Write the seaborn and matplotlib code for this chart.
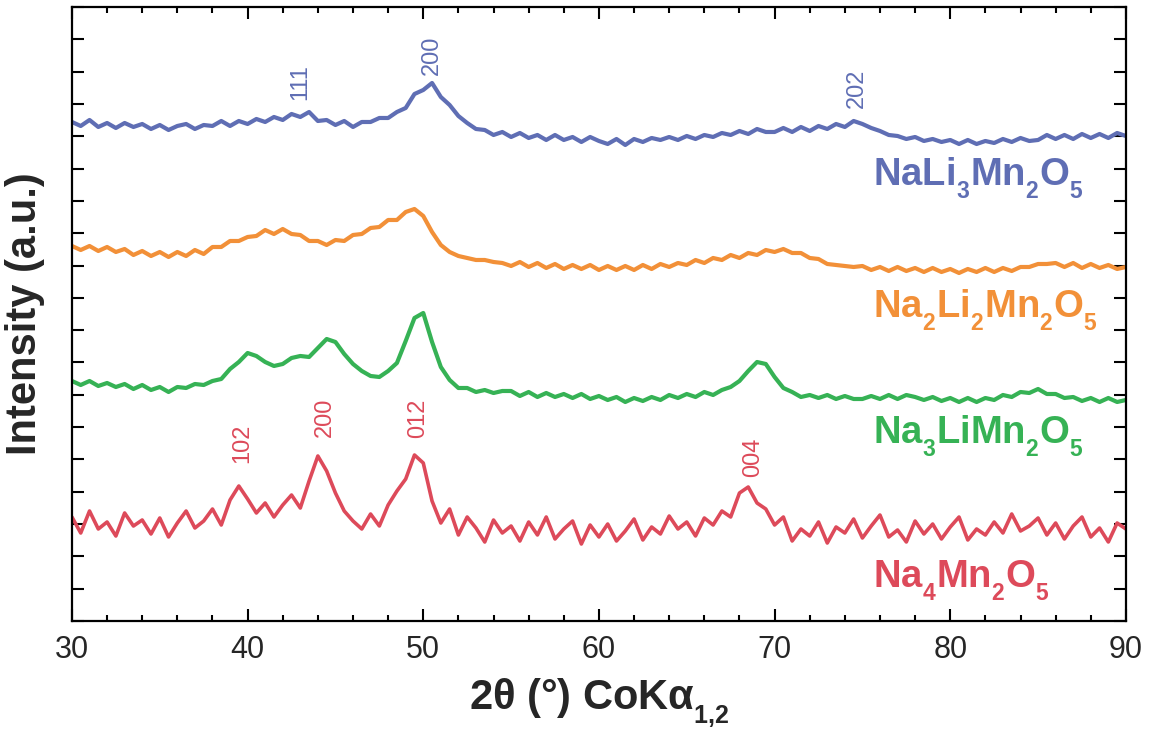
import numpy as np
import matplotlib; matplotlib.use('Agg')
import matplotlib.pyplot as plt
import matplotlib._mathtext as mathtext_mod
import seaborn as sns

# ── Data (offsets included) ─────────────────────────────────────────
two_theta = np.arange(30, 90.01, 0.5)

int_nali3 = [
    499, 495, 501, 494, 498, 493, 498, 494, 497, 492,   # 30-34.5
    496, 491, 495, 497, 492, 496, 495, 500, 495, 500,   # 35-39.5
    497, 502, 499, 504, 501, 507, 504, 509, 500, 501,   # 40-44.5
    496, 500, 494, 499, 499, 503, 503, 509, 513, 527,   # 45-49.5
    531, 538, 524, 516, 505, 498, 492, 491, 486, 489,   # 50-54.5
    484, 488, 483, 486, 481, 486, 481, 484, 479, 484,   # 55-59.5
    480, 477, 482, 476, 482, 479, 483, 481, 484, 481,   # 60-64.5
    485, 482, 486, 484, 488, 486, 490, 487, 492, 489,   # 65-69.5
    489, 493, 489, 494, 490, 495, 492, 497, 494, 500,   # 70-74.5
    497, 493, 490, 486, 485, 482, 484, 480, 482, 479,   # 75-79.5
    481, 477, 481, 477, 480, 478, 482, 479, 483, 480,   # 80-84.5
    481, 486, 482, 486, 482, 487, 483, 487, 483, 488,   # 85-89.5
    485]

int_na2li2 = [
    375, 371, 375, 370, 374, 369, 372, 366, 370, 365,
    369, 364, 369, 365, 371, 367, 374, 374, 380, 380,
    384, 385, 391, 387, 392, 387, 386, 380, 380, 376,
    381, 380, 386, 387, 393, 394, 401, 401, 409, 412,
    405, 389, 376, 369, 365, 363, 361, 361, 359, 358,
    355, 359, 354, 358, 353, 357, 352, 356, 352, 356,
    351, 355, 351, 355, 351, 356, 352, 357, 354, 358,
    356, 361, 358, 363, 361, 366, 363, 368, 366, 371,
    369, 372, 368, 368, 363, 362, 357, 356, 355, 354,
    355, 351, 354, 350, 354, 350, 353, 349, 353, 349,
    352, 348, 352, 349, 353, 349, 353, 350, 354, 354,
    357, 357, 358, 354, 358, 353, 357, 353, 356, 352,
    354]

int_na3li = [
    240, 236, 240, 235, 238, 234, 237, 232, 236, 231,
    234, 229, 234, 233, 237, 236, 240, 242, 252, 259,
    268, 265, 259, 255, 257, 263, 265, 264, 273, 282,
    279, 267, 257, 250, 245, 244, 250, 258, 280, 303,
    308, 279, 254, 241, 233, 233, 229, 231, 228, 230,
    230, 225, 229, 224, 228, 224, 227, 223, 227, 222,
    225, 221, 224, 219, 223, 220, 224, 221, 226, 223,
    227, 224, 229, 226, 231, 234, 240, 250, 259, 257,
    244, 233, 229, 224, 226, 223, 226, 222, 225, 222,
    222, 225, 222, 226, 222, 226, 224, 221, 224, 220,
    223, 219, 223, 219, 223, 221, 226, 224, 229, 228,
    232, 227, 227, 223, 224, 220, 223, 219, 223, 219,
    221]

int_na4 = [
    104, 88, 110, 92, 99, 85, 108, 95, 101, 87,
    103, 84, 98, 110, 93, 100, 112, 96, 121, 135,
    122, 108, 118, 104, 116, 126, 113, 140, 165, 150,
    128, 110, 100, 92, 107, 95, 116, 130, 142, 166,
    158, 120, 98, 112, 86, 104, 93, 79, 101, 88,
    95, 80, 99, 86, 104, 82, 92, 100, 77, 96,
    84, 97, 80, 90, 102, 81, 94, 87, 105, 92,
    99, 85, 103, 96, 110, 104, 128, 134, 118, 112,
    96, 104, 80, 92, 85, 99, 78, 94, 88, 102,
    83, 95, 106, 84, 91, 79, 100, 87, 97, 82,
    94, 104, 81, 92, 86, 99, 88, 107, 90, 95,
    103, 86, 98, 82, 95, 104, 84, 93, 79, 98,
    92]

samples = ['NaLi$_\\mathbf{3}$Mn$_\\mathbf{2}$O$_\\mathbf{5}$',
           'Na$_\\mathbf{2}$Li$_\\mathbf{2}$Mn$_\\mathbf{2}$O$_\\mathbf{5}$',
           'Na$_\\mathbf{3}$LiMn$_\\mathbf{2}$O$_\\mathbf{5}$',
           'Na$_\\mathbf{4}$Mn$_\\mathbf{2}$O$_\\mathbf{5}$']

hkl_nali3 = ['111', '200', '202']
pos_nali3 = [43.0, 50.5, 74.7]
hkl_na4 = ['102', '200', '012', '004']
pos_na4 = [39.7, 44.4, 49.7, 68.75]

# ── Style ────────────────────────────────────────────────────────────
sns.set_style('ticks')
plt.rcParams['font.family'] = ['Liberation Sans', 'DejaVu Sans']
plt.rcParams['mathtext.fontset'] = 'custom'
plt.rcParams['mathtext.rm'] = 'Liberation Sans'
plt.rcParams['mathtext.bf'] = 'Liberation Sans:bold'
plt.rcParams['mathtext.it'] = 'Liberation Sans:italic'
# smaller, lower subscripts like the original figure
mathtext_mod.SHRINK_FACTOR = 0.6
mathtext_mod.FontConstantsBase.sub1 = 0.65

colors = ['#5f6eb4', '#f29038', '#36b255', '#dd4a5a']
traces = [int_nali3, int_na2li2, int_na3li, int_na4]
widths = [3.0, 3.0, 3.0, 2.6]

fig = plt.figure(figsize=(11.53, 7.35), dpi=100)
ax = fig.add_axes([0.0624, 0.1551, 0.9141, 0.8354])

for vals, c, lw in zip(traces, colors, widths):
    sns.lineplot(x=two_theta, y=vals, color=c, lw=lw, ax=ax)

# sample names
for name, c, yb in zip(samples, colors, [436, 304, 178, 34]):
    ax.text(75.6, yb, name, color=c, fontsize=27.5, fontweight='bold',
            ha='left', va='baseline')

# hkl labels
for lab, x, yb in zip(hkl_nali3, pos_nali3, [521, 546, 513]):
    ax.text(x, yb, lab, color=colors[0], fontsize=17, rotation=90,
            ha='center', va='bottom')
for lab, x, yb in zip(hkl_na4, pos_na4, [158, 184, 183, 144]):
    ax.text(x, yb, lab, color=colors[3], fontsize=17, rotation=90,
            ha='center', va='bottom')

# ── Axes ─────────────────────────────────────────────────────────────
ax.set_xlim(30, 90)
ax.set_ylim(0, 614)
ax.set_xticks(np.arange(30, 91, 10))
ax.set_xticks(np.arange(30, 91, 2), minor=True)
ax.set_yticks(np.linspace(0, 614, 20))
ax.set_yticklabels([])
ax.tick_params(which='both', direction='in', top=True, right=True,
               width=1.5, color='black')
ax.tick_params(which='major', length=8.5)
ax.tick_params(which='minor', length=4.3)
ax.tick_params(axis='x', labelsize=22, pad=10)
for s in ax.spines.values():
    s.set_linewidth(1.6)
    s.set_color('black')

ax.set_xlabel('2θ (°) CoKα$_\\mathbf{1{,}2}$', fontsize=30, fontweight='bold',
              labelpad=8)
ax.set_ylabel('Intensity (a.u.)', fontsize=30, fontweight='bold', labelpad=16)

plt.savefig('out.png', dpi=100)
